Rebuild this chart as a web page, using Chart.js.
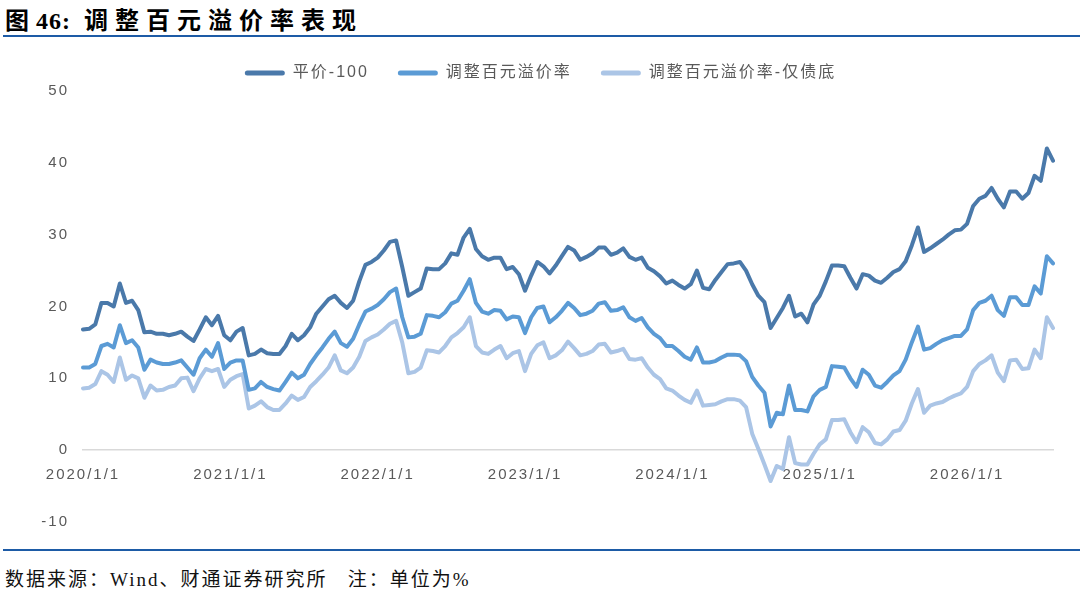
<!DOCTYPE html>
<html>
<head>
<meta charset="utf-8">
<script src="https://cdn.jsdelivr.net/npm/chart.js@4.4.0/dist/chart.umd.min.js"></script>
<style>
body { margin: 0; width: 1080px; height: 591px; background: #fff; position: relative; overflow: hidden; }
#title { position: absolute; left: 5px; top: 1px; font: bold 24px "Liberation Serif", "Noto Sans CJK SC"; letter-spacing: 7px; color: #000; white-space: nowrap; }
#title .num { letter-spacing: 1px; }
.rule { position: absolute; left: 3px; right: 0; height: 2px; background: #1d5ba6; }
#chartBox { position: absolute; left: 0; top: 39px; width: 1080px; height: 506px; }
#source { position: absolute; left: 5px; top: 564px; font: 19px "Liberation Serif", "Noto Sans CJK SC"; letter-spacing: 2px; color: #111; white-space: nowrap; }
</style>
</head>
<body>
<div id="title">图<span class="num">46:</span> 调整百元溢价率表现</div>
<div class="rule" style="top:35px"></div>
<div id="chartBox"><canvas id="chart"></canvas></div>
<div class="rule" style="top:549px"></div>
<div id="source">数据来源：Wind、财通证券研究所&nbsp;&nbsp;&nbsp;注：单位为%</div>
<script>
// semi-monthly readings, 2020/1 .. 2026/7
var tickLabels = ['2020/1/1', '2021/1/1', '2022/1/1', '2023/1/1', '2024/1/1', '2025/1/1', '2026/1/1'];
var pointsPerYear = 24;

var parity = [
	16.8, 16.9, 17.5, 20.5, 20.5, 20, 23.2, 20.5, 20.8, 19.5,
	16.4, 16.5, 16.2, 16.2, 16, 16.2, 16.5, 15.8, 15.2, 16.8,
	18.5, 17.4, 18.7, 16, 15.3, 16.5, 17, 13.2, 13.4, 14,
	13.5, 13.4, 13.4, 14.5, 16.2, 15.3, 16, 17.1, 19, 20,
	21, 21.5, 20.5, 19.8, 20.8, 23.5, 25.8, 26.2, 26.8, 27.8,
	29, 29.2, 25.5, 21.5, 22, 22.5, 25.3, 25.2, 25.2, 26,
	27.4, 27.2, 29.6, 30.8, 28, 27, 26.5, 26.8, 26.8, 25.2,
	25.5, 24.5, 22.2, 24.3, 26.2, 25.6, 24.6, 25.7, 27, 28.3,
	27.8, 26.5, 26.9, 27.4, 28.2, 28.2, 27.2, 27.5, 28.1, 26.9,
	26.5, 26.8, 25.4, 24.9, 24.2, 23.2, 23.6, 23, 22.5, 23.1,
	25, 22.6, 22.4, 23.7, 24.8, 25.9, 26, 26.2, 25, 23.1,
	21.5, 20.6, 17, 18.4, 19.8, 21.5, 18.6, 19, 17.8, 20.3,
	21.5, 23.5, 25.7, 25.7, 25.6, 24, 22.5, 24.5, 24.3, 23.6,
	23.3, 24, 24.8, 25.2, 26.3, 28.5, 31, 27.6, 28.1, 28.7,
	29.3, 30, 30.6, 30.7, 31.5, 34, 35, 35.4, 36.5, 35,
	33.8, 36, 36, 35, 35.8, 38.2, 37.5, 42, 40.3
];

var premium = [
	11.5, 11.5, 12, 14.5, 14.8, 14.3, 17.4, 14.9, 15.3, 14.3,
	11.2, 12.6, 12.2, 12, 12, 12.2, 12.5, 11.5, 10.5, 12.8,
	14, 13, 14.9, 11.3, 12.2, 12.5, 12.5, 8.4, 8.6, 9.5,
	8.8, 8.5, 8.3, 9.5, 10.8, 10, 10.5, 12, 13.2, 14.3,
	15.5, 16.5, 14.9, 14.4, 15.5, 17.5, 19.3, 19.7, 20.2, 21,
	22, 22.5, 18.5, 15.7, 15.8, 16.2, 18.8, 18.7, 18.5, 19.2,
	20.4, 20.8, 22.2, 23.8, 20.5, 19.3, 19, 19.5, 19.4, 18.2,
	18.6, 18.5, 16.3, 18.5, 19.8, 20, 17.8, 18.5, 19.4, 20.5,
	19.8, 18.8, 19, 19.4, 20.4, 20.6, 19.4, 19.5, 19.9, 18.5,
	18, 18.4, 17.1, 16.2, 15.6, 14.5, 14.5, 13.8, 13, 12.6,
	14.3, 12.2, 12.2, 12.4, 12.9, 13.3, 13.3, 13.2, 12.4, 10.2,
	9, 8, 3.3, 5.2, 5, 9, 5.6, 5.6, 5.4, 7.5,
	8.4, 8.8, 11.7, 11.6, 11.5, 10, 8.8, 11.2, 10.5, 9,
	8.7, 9.5, 10.4, 11, 12.6, 15, 17.2, 14, 14.2, 14.8,
	15.3, 15.6, 15.9, 15.9, 16.8, 19.5, 20.5, 20.8, 21.5, 19.5,
	18.7, 21.3, 21.3, 20.2, 20.2, 22.8, 21.8, 27, 26
];

var premiumBond = [
	8.6, 8.7, 9.2, 11, 10.5, 9.5, 12.9, 9.8, 10.4, 10,
	7.3, 9, 8.3, 8.4, 8.8, 9, 10, 10.1, 8.2, 10,
	11.3, 11, 11.3, 8.8, 9.8, 10.3, 10.6, 5.8, 6.2, 6.8,
	6, 5.6, 5.6, 6.5, 7.6, 7, 7.4, 8.8, 9.6, 10.5,
	11.5, 13.2, 11.1, 10.7, 11.5, 13, 15.2, 15.7, 16.1, 16.8,
	17.6, 18, 15, 10.7, 10.9, 11.5, 13.9, 13.8, 13.6, 14.5,
	15.7, 16.3, 17.1, 18.5, 14.5, 13.6, 13.4, 14, 14.5, 12.8,
	13.5, 13.8, 11, 13.4, 14.6, 15, 12.8, 13.2, 13.9, 15.1,
	14.2, 13.2, 13.4, 13.8, 14.7, 14.8, 13.6, 13.8, 14.1, 12.7,
	12.6, 12.8, 11.5, 10.5, 9.9, 8.6, 8.3, 7.6, 7, 6.6,
	8.3, 6.2, 6.3, 6.4, 6.8, 7.1, 7.1, 6.9, 6, 2.3,
	0.2, -2, -4.3, -2.2, -2.6, 1.8, -1.8, -2, -2, -0.5,
	0.8, 1.5, 4.2, 4.2, 4.3, 2.5, 1.1, 3.2, 2.5, 1,
	0.8, 1.5, 2.6, 2.8, 4.1, 6.5, 8.5, 5.2, 6.2, 6.5,
	6.7, 7.2, 7.6, 7.9, 8.8, 11, 12, 12.5, 13.2, 10.8,
	9.6, 12.5, 12.6, 11.3, 11.4, 14, 12.8, 18.5, 17
];

var labels = parity.map(function (v, i) {
	return i % pointsPerYear === 0 ? tickLabels[i / pointsPerYear] : '';
});

var tickFont = { family: '"Liberation Sans", "Noto Sans CJK SC"', size: 15 };

// wider text like the source, set before every layout pass
var spacingPlugin = {
	id: 'spacing',
	beforeLayout: function (chart) { chart.ctx.letterSpacing = '2px'; },
	beforeDraw: function (chart) { chart.ctx.letterSpacing = '2px'; }
};

var ctx = document.getElementById('chart');
var myChart = new Chart(ctx, {
	type: 'line',
	data: {
		labels: labels,
		datasets: [
			{ label: '平价-100', data: parity, borderColor: '#4a79aa', backgroundColor: '#4a79aa' },
			{ label: '调整百元溢价率', data: premium, borderColor: '#5b9bd5', backgroundColor: '#5b9bd5' },
			{ label: '调整百元溢价率-仅债底', data: premiumBond, borderColor: '#abc5e6', backgroundColor: '#abc5e6' }
		]
	},
	plugins: [spacingPlugin],
	options: {
		responsive: true,
		maintainAspectRatio: false,
		animation: false,
		layout: { padding: { top: -3, right: 27, left: 28, bottom: 19 } },
		elements: {
			point: { radius: 0 },
			line: { borderWidth: 4, tension: 0, borderCapStyle: 'round', borderJoinStyle: 'round' }
		},
		plugins: {
			legend: {
				position: 'top',
				labels: {
					boxWidth: 40,
					boxHeight: 5,
					padding: 29,
					color: '#595959',
					useBorderRadius: true,
					borderRadius: 2.5,
					font: { family: '"Liberation Sans", "Noto Sans CJK SC"', size: 16 },
					generateLabels: function (chart) {
						return Chart.defaults.plugins.legend.labels.generateLabels(chart).map(function (item) {
							item.lineWidth = 0;
							return item;
						});
					}
				}
			},
			tooltip: { enabled: false }
		},
		scales: {
			x: {
				position: { y: 0 },
				grid: { display: false },
				border: { color: '#d9d9d9', width: 1.5 },
				ticks: {
					autoSkip: false,
					maxRotation: 0,
					padding: 8,
					color: '#595959',
					font: tickFont,
					callback: function (value) {
						var l = this.getLabelForValue(value);
						return l === '' ? null : l;
					}
				}
			},
			y: {
				min: -10,
				max: 50,
				ticks: { stepSize: 10, color: '#595959', font: tickFont, padding: 14 },
				grid: { display: false, drawTicks: false },
				border: { display: false },
				afterFit: function (scale) { scale.width = 55; }
			}
		}
	}
});
</script>
</body>
</html>
